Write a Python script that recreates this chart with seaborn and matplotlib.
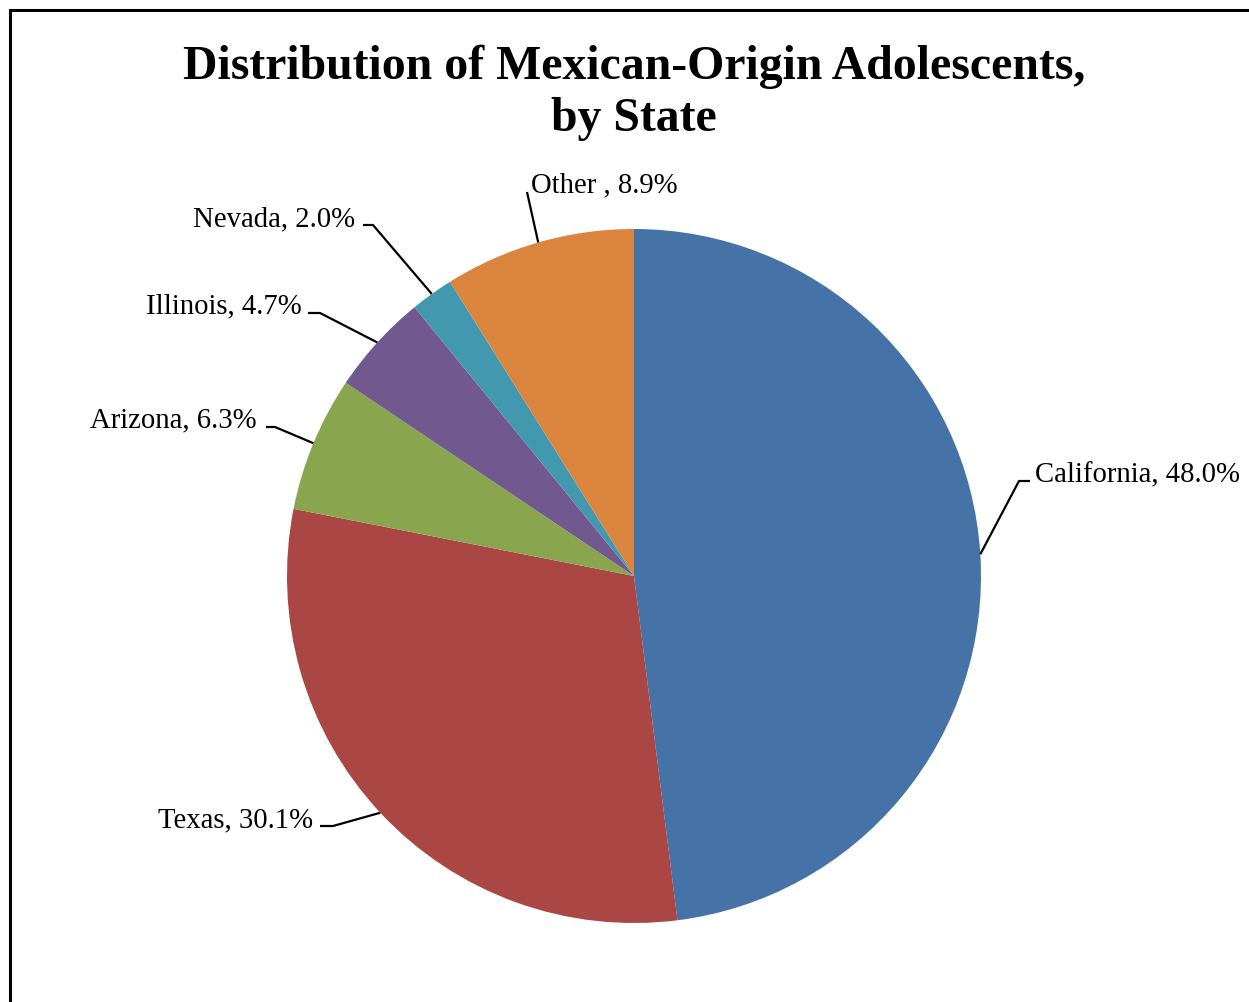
import numpy as np
import matplotlib
matplotlib.use("Agg")
import matplotlib.pyplot as plt
import seaborn as sns

# data
states = ["California", "Texas", "Arizona", "Illinois", "Nevada", "Other "]
shares = [48.0, 30.1, 6.3, 4.7, 2.0, 8.9]
slice_colors = ["#4572A7", "#AA4643", "#89A54E", "#71588F", "#4198AF", "#DB843D"]

sns.set_theme(style="white")
plt.rcParams["font.family"] = ["Liberation Serif", "DejaVu Serif"]

W, H = 1249, 1002
fig = plt.figure(figsize=(W / 100, H / 100), dpi=100)
ax = fig.add_axes([0, 0, 1, 1])


def py(y):
    # pixel row (top-down) -> data y
    return H - y


cx, cy, r = 634, 576, 347
wedges, _ = ax.pie(shares, colors=sns.color_palette(slice_colors), startangle=90,
                   counterclock=False, center=(cx, py(cy)), radius=r,
                   wedgeprops=dict(linewidth=0), frame=True)
ax.set_xlim(0, W)
ax.set_ylim(0, H)
ax.set_aspect("equal")
ax.axis("off")

# label layout (pixels): text anchor, alignment, leader elbow points
layout = [
    ((1035, 475), "left", [(1030, 481), (1019, 481)]),
    ((313, 820), "right", [(320, 826), (333, 826)]),
    ((257, 420), "right", [(266, 427), (275, 427)]),
    ((302, 306), "right", [(308, 313), (320, 313)]),
    ((355, 219), "right", [(363, 225), (373, 225)]),
    ((531, 185), "left", [(527, 192)]),
]

for w, name, val, (pos, ha, elbow) in zip(wedges, states, shares, layout):
    mid = np.deg2rad((w.theta1 + w.theta2) / 2)
    ex = cx + r * np.cos(mid)
    ey = py(cy) + r * np.sin(mid)
    xs = [p[0] for p in elbow] + [ex]
    ys = [py(p[1]) for p in elbow] + [ey]
    ax.plot(xs, ys, color="black", lw=1.6, solid_capstyle="butt")
    ax.text(pos[0], py(pos[1]), f"{name}, {val:.1f}%", ha=ha, va="center",
            fontsize=20.7, color="black")

fig.text(634 / W, 1 - 93 / H, "Distribution of Mexican-Origin Adolescents,\nby State",
         ha="center", va="center", fontsize=34.4, fontweight="bold",
         linespacing=1.23, color="black")

# chart frame (right and bottom edges fall outside the image)
frame = plt.Rectangle((10 / W, -0.1), (W - 5) / W, (H - 10) / H + 0.1,
                      transform=fig.transFigure, fill=False, edgecolor="black",
                      linewidth=2.2)
fig.patches.append(frame)

fig.savefig("out.png", dpi=100, facecolor="white")
